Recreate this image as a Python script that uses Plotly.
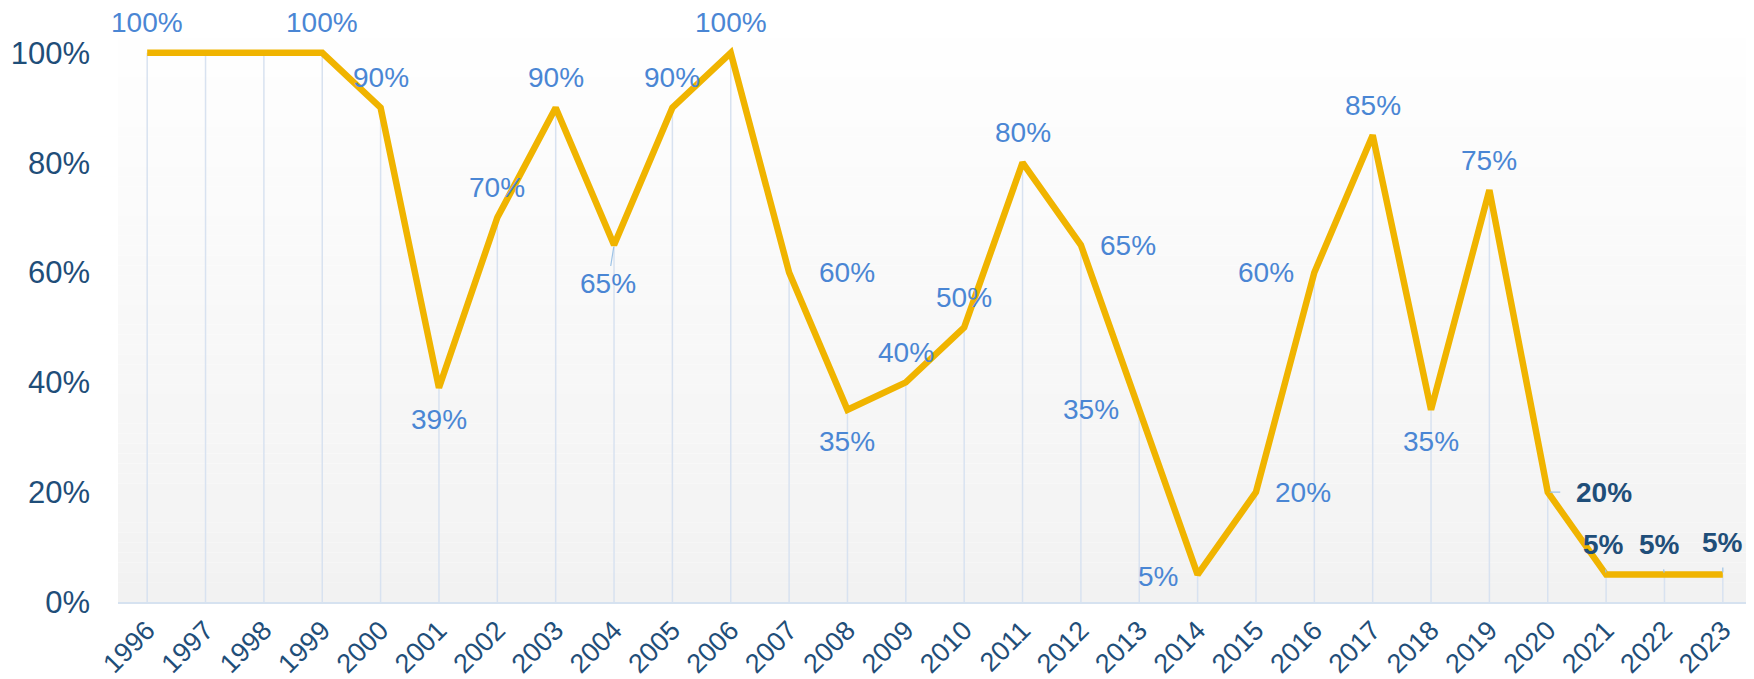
import plotly.graph_objects as go

# ---- data ----
years = list(range(1996, 2024))
values = [1.00, 1.00, 1.00, 1.00, 0.90, 0.39, 0.70, 0.90, 0.65, 0.90,
          1.00, 0.60, 0.35, 0.40, 0.50, 0.80, 0.65, 0.35, 0.05, 0.20,
          0.60, 0.85, 0.35, 0.75, 0.20, 0.05, 0.05, 0.05]
label_shown = [True, False, False] + [True] * 25
y_ticks = [0, 0.2, 0.4, 0.6, 0.8, 1.0]

# ---- label styling (placement only) ----
label_pos = ['top', None, None, 'top', 'top', 'bottom', 'top', 'top', 'lead_below', 'top',
             'top', 'right_far', 'bottom', 'top', 'top', 'top', 'right', 'left', 'left_near', 'right',
             'left', 'top', 'bottom', 'top', 'lead_right', 'lead_up', 'lead_up_l', 'lead_up_last']
bold_from = 24  # index from which labels are emphasised

LINE_C = '#f0b400'
LBL_C = '#4a86d4'
DARK_C = '#1f4e79'
DROP_C = '#d8e2f0'
LEAD_C = '#9dc3e6'
FONT = 'Liberation Sans, Arial, sans-serif'

fig = go.Figure()

# drop lines from axis to each point
dx, dy = [], []
for x, v in zip(years, values):
    dx += [x, x, None]
    dy += [0, v, None]
fig.add_trace(go.Scatter(x=dx, y=dy, mode='lines', line=dict(color=DROP_C, width=1.5),
                         hoverinfo='skip', showlegend=False))

fig.add_trace(go.Scatter(x=years, y=values, mode='lines',
                         line=dict(color=LINE_C, width=6.5), showlegend=False))

offsets = {
    'top': (0, 30),
    'bottom': (0, -32),
    'right': (47, 0),
    'right_far': (58, 0),
    'left': (-48, 0),
    'left_near': (-40, -2),
}
arrows = {
    'lead_below': (-6, 38, 0),
    'lead_right': (56, 0, 14),
    'lead_up': (-3, -30, 8),
    'lead_up_l': (-5, -30, 8),
    'lead_up_last': (0, -32, 8),
}
annotations = []
for i, (x, v, show, pos) in enumerate(zip(years, values, label_shown, label_pos)):
    if not show:
        continue
    txt = f"{round(v * 100)}%"
    bold = i >= bold_from
    font = dict(family=FONT, size=28, color=DARK_C if bold else LBL_C)
    if bold:
        txt = f"<b>{txt}</b>"
    if pos in offsets:
        xs, ys = offsets[pos]
        annotations.append(dict(x=x, y=v, xref='x', yref='y', text=txt, showarrow=False,
                                xshift=xs, yshift=ys, font=font,
                                xanchor='center', yanchor='middle'))
    else:
        ax, ay, sso = arrows[pos]
        annotations.append(dict(x=x, y=v, xref='x', yref='y', text=txt, showarrow=True,
                                arrowhead=0, arrowwidth=1.2, arrowcolor=LEAD_C, ax=ax, ay=ay,
                                startstandoff=sso, standoff=2, font=font))

# vertical gradient background (white top -> light grey bottom)
shapes = []
n = 60
for k in range(n):
    t = k / (n - 1)
    c = int(round(242 + (255 - 242) * t))
    shapes.append(dict(type='rect', xref='paper', yref='paper', x0=0, x1=1,
                       y0=k / n, y1=(k + 1) / n, fillcolor=f'rgb({c},{c},{c})',
                       line=dict(width=0), layer='below'))

fig.update_layout(
    width=1746, height=671,
    margin=dict(l=110, r=2, t=0, b=77),
    paper_bgcolor='white',
    plot_bgcolor='rgba(0,0,0,0)',
    font=dict(family=FONT),
    annotations=annotations,
    shapes=shapes,
    xaxis=dict(range=[years[0] - 0.5, years[-1] + 0.5], tickvals=years,
               ticktext=[str(y) for y in years],
               showgrid=False, showline=True, linecolor='#d6e2f0', linewidth=1.5,
               tickangle=-45, tickfont=dict(size=27, color=DARK_C, family=FONT),
               ticks='', automargin=False, zeroline=False),
    yaxis=dict(range=[0, 1.0816], tickvals=y_ticks, tickformat='.0%',
               showgrid=False, zeroline=False, showline=False,
               tickfont=dict(size=31, color=DARK_C, family=FONT),
               ticks='', ticklabelstandoff=27, automargin=False),
)

fig.write_html("out.html")
